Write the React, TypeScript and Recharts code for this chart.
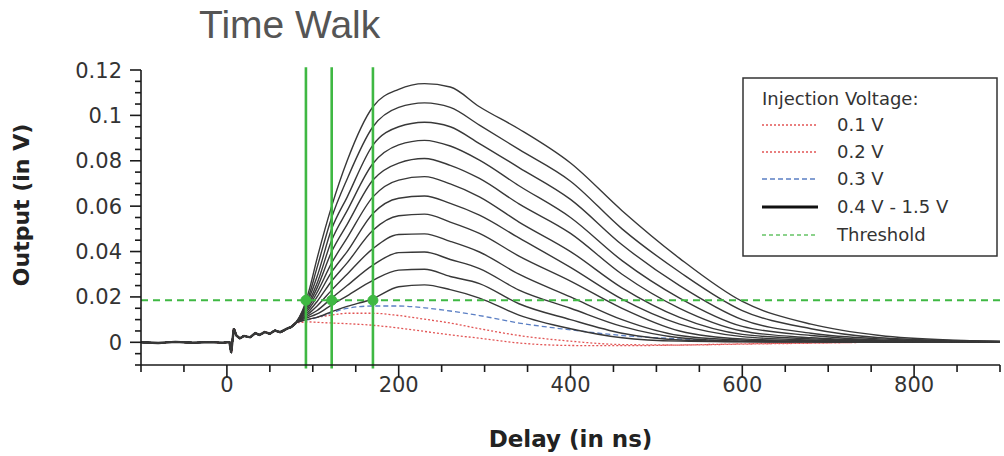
import { LineChart, Line, XAxis, YAxis, ReferenceLine, ReferenceDot } from "recharts";

// shared baseline before the pulse (all curves overlap here)
const prePulseDelays = [-100, -80, -60, -40, -20, -5, 0, 3, 5, 8, 11, 15, 20, 27, 33, 38, 44, 50, 56, 62, 70, 75, 80];
const prePulseOutput = [0, -0.0003, 0.0002, -0.0002, 0.0001, -0.0002, 0, 0, -0.0045, 0.006, 0.003, 0.0018, 0.0028, 0.0022, 0.004, 0.0033, 0.0045, 0.0038, 0.0052, 0.0045, 0.006, 0.0068, 0.0085];

const pulseDelays = [88, 95, 105, 122, 140, 170, 200, 230, 260, 294, 340, 400, 460, 527, 600, 680, 760, 840, 900];

const inj01 = [0.0088, 0.009, 0.0088, 0.0085, 0.0082, 0.0075, 0.0063, 0.0048, 0.0033, 0.0018, -0.0003, -0.0014, -0.0015, -0.0012, -0.0007, -0.0003, 0, 0, 0];
const inj02 = [0.0095, 0.01, 0.011, 0.012, 0.0128, 0.0128, 0.0118, 0.0102, 0.0085, 0.006, 0.003, 0.0005, -0.001, -0.0012, -0.0008, -0.0004, 0, 0, 0];
const inj03 = [0.0095, 0.01, 0.011, 0.013, 0.015, 0.016, 0.016, 0.0152, 0.0138, 0.0118, 0.0085, 0.0055, 0.003, 0.0015, 0.0005, 0.0002, 0, 0, 0];
const inj04 = [0.0095, 0.0102, 0.011, 0.0135, 0.0158, 0.0192, 0.0245, 0.0253, 0.0232, 0.0195, 0.012, 0.006, 0.002, 0.0005, 0.0002, 0.0001, 0, 0, 0];
const inj05 = [0.01, 0.011, 0.0125, 0.0165, 0.0205, 0.0273, 0.0318, 0.0322, 0.029, 0.0259, 0.017, 0.01, 0.004, 0.001, 0.0003, 0.0002, 0.0001, 0, 0];
const inj06 = [0.0104, 0.0118, 0.014, 0.0195, 0.025, 0.034, 0.0395, 0.0398, 0.0365, 0.0325, 0.023, 0.015, 0.007, 0.002, 0.0005, 0.0003, 0.0002, 0.0001, 0];
const inj07 = [0.0108, 0.0126, 0.016, 0.023, 0.03, 0.0413, 0.0475, 0.0478, 0.0445, 0.0398, 0.03, 0.02, 0.01, 0.003, 0.001, 0.0005, 0.0003, 0.0002, 0.0001];
const inj08 = [0.0112, 0.0135, 0.018, 0.027, 0.035, 0.0494, 0.0558, 0.0565, 0.053, 0.048, 0.038, 0.027, 0.015, 0.005, 0.0015, 0.0008, 0.0004, 0.0002, 0.0001];
const inj09 = [0.0116, 0.0145, 0.02, 0.031, 0.04, 0.0568, 0.0635, 0.0645, 0.0612, 0.056, 0.046, 0.033, 0.019, 0.008, 0.0025, 0.001, 0.0005, 0.0003, 0.0001];
const inj10 = [0.012, 0.0155, 0.022, 0.035, 0.046, 0.0641, 0.0715, 0.073, 0.0698, 0.0641, 0.053, 0.04, 0.024, 0.011, 0.0035, 0.0015, 0.0006, 0.0003, 0.0001];
const inj11 = [0.0124, 0.0165, 0.024, 0.04, 0.052, 0.0715, 0.079, 0.081, 0.078, 0.0722, 0.061, 0.048, 0.03, 0.015, 0.005, 0.002, 0.0008, 0.0004, 0.0002];
const inj12 = [0.0128, 0.0175, 0.026, 0.045, 0.058, 0.0788, 0.087, 0.089, 0.0865, 0.0803, 0.069, 0.055, 0.036, 0.0195, 0.007, 0.003, 0.001, 0.0005, 0.0002];
const inj13 = [0.0131, 0.0188, 0.029, 0.05, 0.064, 0.0869, 0.095, 0.097, 0.095, 0.0876, 0.077, 0.063, 0.043, 0.025, 0.01, 0.004, 0.0015, 0.0006, 0.0003];
const inj14 = [0.0135, 0.02, 0.033, 0.055, 0.072, 0.095, 0.1035, 0.1055, 0.1035, 0.0957, 0.085, 0.071, 0.05, 0.031, 0.014, 0.006, 0.002, 0.0008, 0.0004];
const inj15 = [0.014, 0.022, 0.037, 0.06, 0.08, 0.1038, 0.1115, 0.114, 0.1125, 0.1038, 0.094, 0.079, 0.058, 0.037, 0.018, 0.008, 0.003, 0.001, 0.0005];

const THRESHOLD = 0.0185;
const crossingDelays = [92, 122, 170];

const X_MIN = -100;
const X_MAX = 900;
const Y_MIN = -0.01;
const Y_MAX = 0.12;

const xTicks = [-100, -50, 0, 50, 100, 150, 200, 250, 300, 350, 400, 450, 500, 550, 600, 650, 700, 750, 800, 850, 900];
const xLabels = [0, 200, 400, 600, 800];
const yTicks = [-0.01, -0.005, 0, 0.005, 0.01, 0.015, 0.02, 0.025, 0.03, 0.035, 0.04, 0.045, 0.05, 0.055, 0.06, 0.065, 0.07, 0.075, 0.08, 0.085, 0.09, 0.095, 0.1, 0.105, 0.11, 0.115, 0.12];
const yLabels = [0, 0.02, 0.04, 0.06, 0.08, 0.1, 0.12];

const RED = "#e25555";
const BLUE = "#5b7fc4";
const BLACK = "#383838";
const GREEN = "#3fb843";
const AXIS = "#1a1a1a";

// chart box and margins (plot area = 141..1000 x 70..365)
const W = 1004;
const H = 456;
const MARGIN = { top: 70, right: 4, bottom: 0, left: 0 };
const Y_AXIS_W = 141;
const X_AXIS_H = 91;
const PLOT_L = MARGIN.left + Y_AXIS_W;
const PLOT_R = W - MARGIN.right;
const PLOT_T = MARGIN.top;
const PLOT_B = H - MARGIN.bottom - X_AXIS_H;

type Curve = { key: string; values: number[]; color: string; dash?: string; width: number };

const curves: Curve[] = [
  { key: "v01", values: inj01, color: RED, dash: "2 2", width: 1.3 },
  { key: "v02", values: inj02, color: RED, dash: "2 2", width: 1.3 },
  { key: "v03", values: inj03, color: BLUE, dash: "5 3", width: 1.3 },
  ...[inj04, inj05, inj06, inj07, inj08, inj09, inj10, inj11, inj12, inj13, inj14, inj15].map((values, i) => ({
    key: "v" + (i + 4),
    values,
    color: BLACK,
    width: 1.4,
  })),
];

type Row = { [k: string]: number };

const rows: Row[] = [
  ...prePulseDelays.map((t, i) => {
    const r: Row = { t, common: prePulseOutput[i] };
    curves.forEach((c) => (r[c.key] = prePulseOutput[i]));
    return r;
  }),
  ...pulseDelays.map((t, i) => {
    const r: Row = { t };
    curves.forEach((c) => (r[c.key] = c.values[i]));
    return r;
  }),
];

const tickFont = { fontFamily: "DejaVu Sans", fontSize: 21, fill: "#333" };

const isYLabel = (v: number) => yLabels.some((l) => Math.abs(l - v) < 1e-9);

function DelayTick(props: any) {
  const { x, y, payload } = props;
  if (!xLabels.includes(payload.value)) return <g />;
  return (
    <text x={x} y={y + 27} textAnchor="middle" {...tickFont}>
      {payload.value}
    </text>
  );
}

function OutputTick(props: any) {
  const { x, y, payload } = props;
  if (!isYLabel(payload.value)) return <g />;
  return (
    <text x={x - 19} y={y} dy="0.36em" textAnchor="end" {...tickFont}>
      {String(payload.value)}
    </text>
  );
}

// tick stubs on top of the chart, same linear mapping as the plot area
function TickMarks() {
  const px = (t: number) => PLOT_L + ((t - X_MIN) / (X_MAX - X_MIN)) * (PLOT_R - PLOT_L);
  const py = (v: number) => PLOT_T + ((Y_MAX - v) / (Y_MAX - Y_MIN)) * (PLOT_B - PLOT_T);
  return (
    <svg width={W} height={H} style={{ position: "absolute", left: 0, top: 0, pointerEvents: "none" }}>
      {xTicks.map((t) => (
        <line
          key={"x" + t}
          x1={px(t)}
          x2={px(t)}
          y1={PLOT_B}
          y2={PLOT_B + (xLabels.includes(t) ? 12 : 7)}
          stroke={AXIS}
          strokeWidth={1.6}
        />
      ))}
      {yTicks.map((v) => (
        <line
          key={"y" + v}
          x1={PLOT_L - (isYLabel(v) ? 11 : 6)}
          x2={PLOT_L}
          y1={py(v)}
          y2={py(v)}
          stroke={AXIS}
          strokeWidth={1.6}
        />
      ))}
    </svg>
  );
}

function LegendBox() {
  const rowsY = [48, 75, 102, 130, 158];
  const items = [
    { label: "0.1 V", color: RED, dash: "2 2", w: 1.3 },
    { label: "0.2 V", color: RED, dash: "2 2", w: 1.3 },
    { label: "0.3 V", color: BLUE, dash: "5 3", w: 1.3 },
    { label: "0.4 V - 1.5 V", color: "#111", dash: undefined, w: 3 },
    { label: "Threshold", color: "#66c466", dash: "4 3", w: 1.3 },
  ];
  return (
    <svg width={256} height={180} style={{ position: "absolute", left: 742, top: 77 }}>
      <rect x={1} y={1} width={254} height={178} fill="#fff" stroke="#333" strokeWidth={1.5} />
      <text x={20} y={22} dy="0.36em" fontFamily="DejaVu Sans" fontSize={18} fill="#333">
        Injection Voltage:
      </text>
      {items.map((it, i) => (
        <g key={it.label}>
          <line x1={20} x2={76} y1={rowsY[i]} y2={rowsY[i]} stroke={it.color} strokeWidth={it.w} strokeDasharray={it.dash} />
          <text x={95} y={rowsY[i]} dy="0.36em" fontFamily="DejaVu Sans" fontSize={18} fill="#333">
            {it.label}
          </text>
        </g>
      ))}
    </svg>
  );
}

export default function App() {
  return (
    <div style={{ position: "absolute", left: 0, top: 0, width: W, height: H, background: "#fff" }}>
      <div
        style={{
          position: "absolute",
          left: 199,
          top: 3,
          fontFamily: "Liberation Sans",
          fontSize: 39,
          lineHeight: "44px",
          color: "#555",
          whiteSpace: "nowrap",
        }}
      >
        Time Walk
      </div>
      <div
        style={{
          position: "absolute",
          left: -78,
          top: 191,
          width: 200,
          lineHeight: "28px",
          textAlign: "center",
          transform: "rotate(-90deg)",
          fontFamily: "DejaVu Sans",
          fontWeight: "bold",
          fontSize: 22,
          color: "#222",
          whiteSpace: "nowrap",
        }}
      >
        Output (in V)
      </div>
      <LineChart width={W} height={H} data={rows} margin={MARGIN}>
        <XAxis
          dataKey="t"
          type="number"
          domain={[X_MIN, X_MAX]}
          ticks={xTicks}
          interval={0}
          allowDataOverflow
          height={X_AXIS_H}
          tickSize={0}
          tickMargin={0}
          tickLine={false}
          axisLine={{ stroke: AXIS, strokeWidth: 1.6 }}
          tick={<DelayTick />}
          label={{
            value: "Delay (in ns)",
            position: "insideBottom",
            offset: 9,
            style: { fontFamily: "DejaVu Sans", fontWeight: "bold", fontSize: 23, fill: "#222" },
          }}
        />
        <YAxis
          type="number"
          domain={[Y_MIN, Y_MAX]}
          ticks={yTicks}
          interval={0}
          allowDataOverflow
          width={Y_AXIS_W}
          tickSize={0}
          tickMargin={0}
          tickLine={false}
          axisLine={{ stroke: AXIS, strokeWidth: 1.6 }}
          tick={<OutputTick />}
        />
        <Line
          dataKey="common"
          type="linear"
          stroke="#1e1e1e"
          strokeWidth={2.4}
          dot={false}
          activeDot={false}
          isAnimationActive={false}
        />
        {curves.map((c) => (
          <Line
            key={c.key}
            dataKey={c.key}
            type="monotone"
            stroke={c.color}
            strokeWidth={c.width}
            strokeDasharray={c.dash}
            dot={false}
            activeDot={false}
            isAnimationActive={false}
          />
        ))}
        <ReferenceLine y={THRESHOLD} stroke={GREEN} strokeWidth={2} strokeDasharray="7 5" />
        {crossingDelays.map((d) => (
          <ReferenceLine
            key={"l" + d}
            segment={[
              { x: d, y: 0.1212 },
              { x: d, y: -0.0115 },
            ]}
            ifOverflow="visible"
            stroke={GREEN}
            strokeWidth={2.6}
          />
        ))}
        {crossingDelays.map((d) => (
          <ReferenceDot key={"d" + d} x={d} y={THRESHOLD} r={5} fill={GREEN} stroke={GREEN} />
        ))}
      </LineChart>
      <TickMarks />
      <LegendBox />
    </div>
  );
}
